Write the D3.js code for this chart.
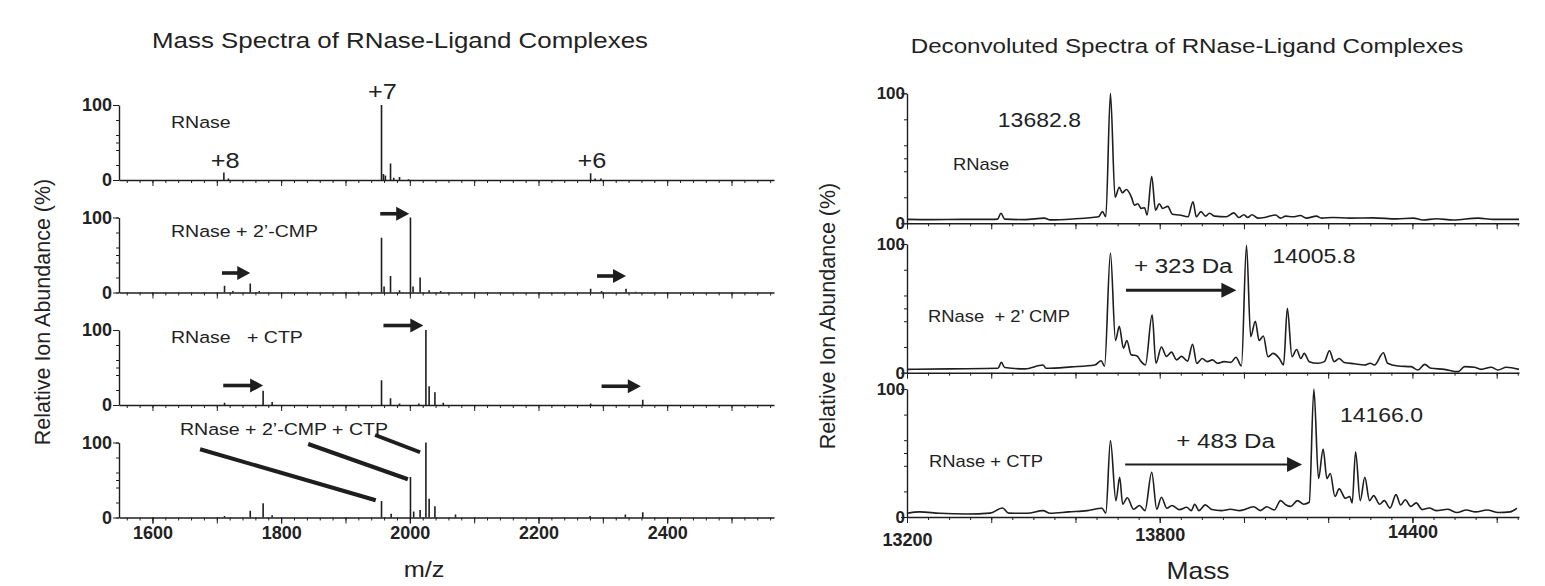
<!DOCTYPE html>
<html lang="en">
<head>
<meta charset="UTF-8" />
<title>RNase-Ligand Complexes</title>
<style>
  body { margin: 0; background: #fff; }
  svg text { font-family: "Liberation Sans", Arial, sans-serif; fill: #222; }
</style>
</head>
<body>
<svg id="chart" width="1545" height="586"></svg>
<script src="https://cdn.jsdelivr.net/npm/d3@7"></script>
<script>
// ---------- data ----------
const titles = ["Mass Spectra of RNase-Ligand Complexes", "Deconvoluted Spectra of RNase-Ligand Complexes"];
const yTitle = "Relative Ion Abundance (%)";
const xTitles = ["m/z", "Mass"];
const mzTicks = [1600, 1800, 2000, 2200, 2400];
const massTicks = [13200, 13800, 14400];

const leftNames = ["RNase", "RNase + 2’-CMP", "RNase   + CTP", "RNase + 2’-CMP + CTP"];
const rightNames = ["RNase", "RNase  + 2’ CMP", "RNase + CTP"];

// charge states of free RNase [label, m/z]
const chargeLabels = [["+8", 1711.4], ["+7", 1955.7], ["+6", 2281.5]];

// peak lists [m/z, relative abundance %]
const rnasePeaks = [[1711, 10], [1718, 2], [1956, 100], [1959, 8], [1962, 6], [1970, 22], [1975, 3],
  [1984, 4], [1998, 1], [2281, 9], [2288, 2], [2297, 2]];
const cmpPeaks = [[1712, 9], [1725, 2], [1752, 12], [1766, 2], [1920, 1], [1956, 73], [1960, 8],
  [1970, 22], [1984, 3], [2001, 100], [2005, 8], [2016, 20], [2030, 3], [2048, 2],
  [2281, 5], [2298, 2], [2336, 5], [2351, 1]];
const ctpPeaks = [[1712, 3], [1772, 19], [1786, 4], [1956, 33], [1970, 9], [1984, 2], [2014, 2],
  [2025, 100], [2030, 25], [2039, 17], [2052, 3], [2281, 2], [2362, 7]];
const bothPeaks = [[1712, 2], [1752, 9], [1772, 19], [1786, 3], [1956, 22], [1971, 5], [2001, 54],
  [2006, 8], [2016, 10], [2025, 100], [2030, 25], [2039, 15], [2071, 4], [2280, 2], [2335, 4], [2362, 7]];

// shift arrows [panel, from m/z, to m/z, level %]
const leftArrows = [[1, 1954, 1999, 105], [1, 1708, 1752, 26], [1, 2291, 2336, 22],
  [2, 1959, 2021, 106], [2, 1710, 1772, 26], [2, 2298, 2359, 25]];
// connector lines in bottom panel [m/z1, %1, m/z2, %2]
const leftLinks = [[1674, 91, 1947, 23], [1842, 98, 1997, 51], [1946, 110, 2016, 87]];

// deconvoluted traces [mass, relative abundance %]
const rnaseDecon = [[13200, 3], [13260, 2.8], [13330, 3], [13400, 3], [13415, 3.2], [13423, 7.7], [13432, 3.2],
  [13480, 2.8], [13526, 4], [13540, 2.6], [13600, 3.5], [13640, 4.5], [13655, 5], [13664, 9], [13672, 5],
  [13683, 100], [13694, 20], [13704, 27.7], [13711, 23.5], [13721, 26], [13733, 20], [13740, 14], [13748, 15],
  [13756, 11.5], [13764, 12], [13770, 6.4], [13781, 36], [13790, 10], [13799, 15], [13807, 11.5], [13819, 13],
  [13830, 7], [13847, 6.4], [13867, 5], [13879, 16.6], [13887, 5], [13898, 9], [13909, 5.5], [13918, 7.7],
  [13930, 5.5], [13958, 5], [13976, 8], [13988, 4.5], [14000, 6.6], [14009, 4.5], [14019, 6.6], [14033, 4],
  [14049, 4.5], [14075, 6.4], [14087, 4], [14099, 5.5], [14116, 5], [14134, 6], [14148, 4], [14172, 5.5],
  [14184, 4], [14211, 4.5], [14251, 4], [14307, 4.2], [14362, 3.4], [14402, 4], [14425, 2.5], [14457, 3.5],
  [14497, 2.5], [14556, 4], [14592, 3], [14653, 3]];
const cmpDecon = [[13200, 2.6], [13300, 3], [13416, 3.4], [13424, 8], [13432, 4], [13480, 3], [13523, 6],
  [13530, 3.4], [13590, 4.5], [13646, 6], [13661, 9.3], [13669, 5], [13683, 93], [13695, 25], [13704, 36],
  [13714, 19], [13722, 25], [13732, 14], [13746, 13], [13756, 8.6], [13766, 6], [13782, 45], [13791, 7.3],
  [13804, 20], [13816, 12.7], [13828, 16], [13840, 10], [13852, 12.7], [13866, 9], [13878, 22], [13888, 7.3],
  [13901, 11], [13913, 8.6], [13925, 10], [13937, 7.3], [13953, 8.6], [13969, 8], [13981, 12], [13994, 5.2],
  [14006, 99], [14016, 28], [14027, 40], [14036, 25], [14046, 28.5], [14057, 12.4], [14069, 15], [14084, 11],
  [14094, 6], [14103, 50], [14114, 12.4], [14125, 18], [14135, 11], [14143, 15], [14155, 8.6], [14175, 7.3],
  [14191, 8.6], [14203, 17], [14214, 8.6], [14226, 11], [14238, 8], [14262, 7], [14286, 6], [14300, 7.3],
  [14310, 6], [14331, 15.5], [14341, 7.3], [14365, 5.2], [14397, 4.7], [14413, 2.1], [14429, 6.5], [14444, 3.4],
  [14476, 2.6], [14508, 0.8], [14524, 4.7], [14547, 4.2], [14563, 2.6], [14587, 4.2], [14603, 2.1],
  [14623, 4.2], [14653, 2.6]];
const ctpDecon = [[13200, 2.9], [13230, 4], [13277, 2.9], [13342, 2.3], [13397, 3], [13427, 7], [13441, 3],
  [13485, 2.9], [13523, 5], [13540, 2.9], [13584, 4], [13628, 5], [13663, 6.8], [13672, 3], [13683, 59.7],
  [13696, 12.8], [13705, 31], [13712, 10], [13723, 15], [13738, 6], [13752, 9], [13765, 5], [13781, 35],
  [13793, 6], [13804, 15.4], [13817, 6.8], [13829, 9], [13847, 5.8], [13864, 7.6], [13875, 5], [13883, 10],
  [13893, 5], [13908, 9.5], [13924, 5.8], [13946, 5], [13968, 6], [13990, 5], [14023, 8], [14039, 5],
  [14054, 8], [14072, 5.5], [14087, 12.8], [14100, 9.4], [14111, 8.3], [14127, 12.8], [14142, 10],
  [14155, 11.5], [14166, 100], [14177, 30], [14188, 53], [14197, 30], [14205, 34], [14216, 16], [14226, 22],
  [14241, 14.6], [14251, 16], [14257, 11], [14265, 51], [14276, 12.8], [14287, 31], [14298, 12.8],
  [14308, 16.7], [14322, 10], [14333, 12.8], [14347, 7], [14361, 17.5], [14372, 9.4], [14383, 13.5],
  [14396, 8.3], [14409, 11], [14423, 5.8], [14440, 7], [14456, 5], [14484, 6], [14506, 3.5], [14528, 5.5],
  [14550, 4], [14577, 5.5], [14604, 3.5], [14632, 4], [14648, 7]];

// labelled masses and shift arrows [panel, from, to, level %]
const peakMasses = [13682.8, 14005.8, 14166.0];
const peakMassText = ["13682.8", "14005.8", "14166.0"];
const rightArrows = [[1, 13720, 13982, 64], [2, 13718, 14138, 41]];
const rightArrowText = ["+ 323 Da", "+ 483 Da"];

// ---------- drawing ----------
const svg = d3.select("#chart");
const ink = "#1e1e1e";
const sx = 1.15; // the figure is slightly stretched horizontally

function label(g, str, x, y, size, anchor = "start", weight = "normal") {
  return g.append("text")
    .attr("transform", `translate(${x},${y}) scale(${sx},1)`)
    .attr("text-anchor", anchor)
    .attr("font-size", size)
    .attr("font-weight", weight)
    .style("white-space", "pre")
    .text(str);
}

function styleAxis(sel, keepDomain, size = 18) {
  sel.attr("color", ink);
  sel.select(".domain").attr("stroke-width", 1.4);
  if (!keepDomain) sel.select(".domain").remove();
  sel.selectAll("text").attr("font-family", '"Liberation Sans", Arial, sans-serif')
    .attr("font-size", size).attr("font-weight", "bold").attr("fill", ink);
}

function arrow(g, x1, x2, y, w, headLen, headHalf) {
  g.append("line").attr("x1", x1).attr("x2", x2 - headLen + 1).attr("y1", y).attr("y2", y)
    .attr("stroke", ink).attr("stroke-width", w);
  g.append("path").attr("d", `M${x2},${y}L${x2 - headLen},${y - headHalf}L${x2 - headLen},${y + headHalf}Z`)
    .attr("fill", ink);
}

// ----- left: mass spectra -----
const xL = d3.scaleLinear().domain([1548, 2566]).range([119, 774]);
const leftPeaks = [rnasePeaks, cmpPeaks, ctpPeaks, bothPeaks];
const leftTops = [105, 217.5, 330, 442.5];
const leftH = 75;

const left = svg.append("g");
label(left, titles[0], 400, 48, 22.5, "middle");
label(left, xTitles[0], 424, 577, 22, "middle");
left.append("text").attr("transform", "translate(50,312) rotate(-90)")
  .attr("text-anchor", "middle").attr("font-size", 21.5).text(yTitle);

leftPeaks.forEach((peaks, i) => {
  const top = leftTops[i], base = top + leftH;
  const y = d3.scaleLinear().domain([0, 100]).range([base, top]);
  const g = left.append("g");

  g.append("g").attr("transform", `translate(0,${base})`)
    .call(d3.axisBottom(xL).tickValues(d3.range(1560, 2567, 20)).tickSize(3).tickSizeOuter(0).tickFormat(""))
    .call(s => styleAxis(s, true));
  g.append("g").attr("transform", `translate(0,${base})`)
    .call(d3.axisBottom(xL).tickValues(d3.range(1600, 2567, 100)).tickSize(6).tickSizeOuter(0).tickFormat(""))
    .call(s => styleAxis(s, false));
  if (i === leftPeaks.length - 1) {
    g.append("g").attr("transform", `translate(0,${base})`)
      .call(d3.axisBottom(xL).tickValues(mzTicks).tickSize(6).tickPadding(3).tickSizeOuter(0).tickFormat(d3.format("d")))
      .call(s => styleAxis(s, false));
  }
  g.append("g").attr("transform", `translate(${xL.range()[0]},0)`)
    .call(d3.axisLeft(y).tickValues([0, 20, 40, 50, 60, 80, 100]).tickSize(3).tickSizeOuter(0).tickFormat(""))
    .call(s => styleAxis(s, true));
  g.append("g").attr("transform", `translate(${xL.range()[0]},0)`)
    .call(d3.axisLeft(y).tickValues([0, 100]).tickSize(6).tickPadding(1).tickSizeOuter(0).tickFormat(d3.format("d")))
    .call(s => styleAxis(s, false));

  g.selectAll("line.peak").data(peaks).join("line").attr("class", "peak")
    .attr("x1", d => xL(d[0])).attr("x2", d => xL(d[0]))
    .attr("y1", y(0)).attr("y2", d => y(d[1]))
    .attr("stroke", ink).attr("stroke-width", 1.6);

  label(g, leftNames[i], i === 3 ? 180 : 171, top + [23, 19.5, 13, -7.5][i], 17);

  leftArrows.filter(a => a[0] === i).forEach(a => arrow(g, xL(a[1]), xL(a[2]), y(a[3]), 3.6, 13, 7));
  if (i === 0) chargeLabels.forEach(c => label(g, c[0], xL(c[1]) + 1, c[0] === "+7" ? top - 6 : top + 63, 22, "middle"));
  if (i === 3) {
    g.selectAll("line.link").data(leftLinks).join("line").attr("class", "link")
      .attr("x1", d => xL(d[0])).attr("y1", d => y(d[1]))
      .attr("x2", d => xL(d[2])).attr("y2", d => y(d[3]))
      .attr("stroke", ink).attr("stroke-width", 4);
  }
});

// ----- right: deconvoluted spectra -----
const xR = d3.scaleLinear().domain([13200, 14653]).range([907, 1519]);
const rightTraces = [rnaseDecon, cmpDecon, ctpDecon];
const rightPanels = [[93.3, 223.3], [244, 372.7], [389, 517]];
const massLabelShift = [5, 0, -3];

const right = svg.append("g");
label(right, titles[1], 1187, 53, 21, "middle");
label(right, xTitles[1], 1198, 579, 23, "middle");
right.append("text").attr("transform", "translate(835,316) rotate(-90)")
  .attr("text-anchor", "middle").attr("font-size", 21.5).text(yTitle);

rightTraces.forEach((trace, i) => {
  const [top, base] = rightPanels[i];
  const y = d3.scaleLinear().domain([0, 100]).range([base, top]);
  const g = right.append("g");

  g.append("g").attr("transform", `translate(0,${base})`)
    .call(d3.axisBottom(xR).tickValues(d3.range(13200, 14654, 50)).tickSize(3).tickSizeOuter(0).tickFormat(""))
    .call(s => styleAxis(s, true));
  g.append("g").attr("transform", `translate(0,${base})`)
    .call(d3.axisBottom(xR).tickValues(d3.range(13200, 14654, 200)).tickSize(6).tickSizeOuter(0).tickFormat(""))
    .call(s => styleAxis(s, false));
  if (i === rightTraces.length - 1) {
    g.append("g").attr("transform", `translate(0,${base})`)
      .call(d3.axisBottom(xR).tickValues(massTicks).tickSize(6).tickPadding(5).tickSizeOuter(0).tickFormat(d3.format("d")))
      .call(s => styleAxis(s, false))
      .call(s => s.selectAll(".tick text").attr("y", (d, k) => 11 + massLabelShift[k]));
  }
  g.append("g").attr("transform", `translate(${xR.range()[0]},0)`)
    .call(d3.axisLeft(y).tickValues([0, 20, 40, 50, 60, 80, 100]).tickSize(3).tickSizeOuter(0).tickFormat(""))
    .call(s => styleAxis(s, true));
  g.append("g").attr("transform", `translate(${xR.range()[0]},0)`)
    .call(d3.axisLeft(y).tickValues([0, 100]).tickSize(6).tickPadding(-4).tickSizeOuter(0).tickFormat(d3.format("d")))
    .call(s => styleAxis(s, false, 17));

  g.append("path").datum(trace)
    .attr("d", d3.line().curve(d3.curveMonotoneX).x(d => xR(d[0])).y(d => y(d[1])))
    .attr("fill", "none").attr("stroke", ink).attr("stroke-width", 1.6).attr("stroke-linejoin", "round");

  label(g, rightNames[i], [953, 928, 929][i], top + [77, 77.5, 78][i], 16);

  const px = xR(peakMasses[i]);
  if (i === 0) label(g, peakMassText[i], px - 71, top + 34, 20, "middle");
  else label(g, peakMassText[i], px + 26, top + [19, 33][i - 1], 20);

  rightArrows.filter(a => a[0] === i).forEach(a => {
    const x1 = xR(a[1]), x2 = xR(a[2]);
    arrow(g, x1, x2, y(a[3]), i === 1 ? 3 : 2, 15, 7.5);
    label(g, rightArrowText[i - 1], (x1 + x2) / 2 + (i === 1 ? 2 : 12), y(a[3]) - 17, 21, "middle");
  });
});
</script>
</body>
</html>
